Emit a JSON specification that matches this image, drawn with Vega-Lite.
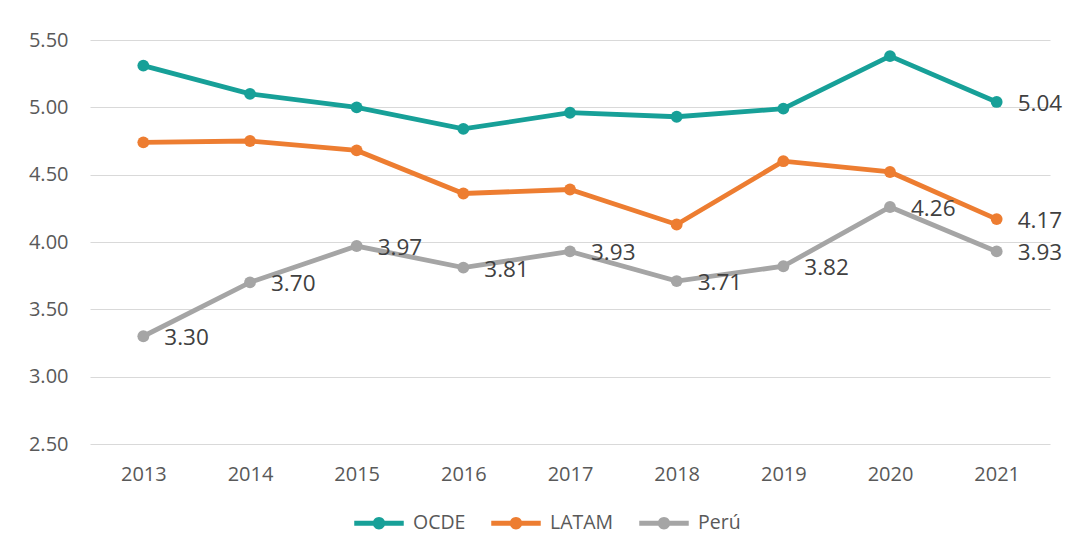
{
  "$schema": "https://vega.github.io/schema/vega-lite/v6.json",
  "width": 960,
  "height": 404,
  "autosize": {"type": "none"},
  "padding": {"left": 90, "top": 40, "right": 16, "bottom": 111},
  "background": "white",
  "config": {
    "font": "Open Sans",
    "view": {"stroke": null}
  },
  "data": {
    "values": [
      {"series": "OCDE", "year": "2013", "value": 5.31},
      {"series": "OCDE", "year": "2014", "value": 5.10},
      {"series": "OCDE", "year": "2015", "value": 5.00},
      {"series": "OCDE", "year": "2016", "value": 4.84},
      {"series": "OCDE", "year": "2017", "value": 4.96},
      {"series": "OCDE", "year": "2018", "value": 4.93},
      {"series": "OCDE", "year": "2019", "value": 4.99},
      {"series": "OCDE", "year": "2020", "value": 5.38},
      {"series": "OCDE", "year": "2021", "value": 5.04},
      {"series": "LATAM", "year": "2013", "value": 4.74},
      {"series": "LATAM", "year": "2014", "value": 4.75},
      {"series": "LATAM", "year": "2015", "value": 4.68},
      {"series": "LATAM", "year": "2016", "value": 4.36},
      {"series": "LATAM", "year": "2017", "value": 4.39},
      {"series": "LATAM", "year": "2018", "value": 4.13},
      {"series": "LATAM", "year": "2019", "value": 4.60},
      {"series": "LATAM", "year": "2020", "value": 4.52},
      {"series": "LATAM", "year": "2021", "value": 4.17},
      {"series": "Perú", "year": "2013", "value": 3.30},
      {"series": "Perú", "year": "2014", "value": 3.70},
      {"series": "Perú", "year": "2015", "value": 3.97},
      {"series": "Perú", "year": "2016", "value": 3.81},
      {"series": "Perú", "year": "2017", "value": 3.93},
      {"series": "Perú", "year": "2018", "value": 3.71},
      {"series": "Perú", "year": "2019", "value": 3.82},
      {"series": "Perú", "year": "2020", "value": 4.26},
      {"series": "Perú", "year": "2021", "value": 3.93}
    ]
  },
  "encoding": {
    "x": {
      "field": "year",
      "type": "ordinal",
      "scale": {"type": "point", "padding": 0.5},
      "axis": {
        "title": null,
        "labelAngle": 0,
        "labelFontSize": 20,
        "labelColor": "#595959",
        "labelPadding": 20,
        "ticks": false,
        "domain": false,
        "grid": false
      }
    },
    "y": {
      "field": "value",
      "type": "quantitative",
      "scale": {"domain": [2.5, 5.5], "nice": false, "zero": false},
      "axis": {
        "title": null,
        "values": [2.5, 3, 3.5, 4, 4.5, 5, 5.5],
        "format": ".2f",
        "labelFontSize": 20,
        "labelColor": "#595959",
        "labelPadding": 22,
        "ticks": false,
        "domain": false,
        "gridColor": "#d9d9d9",
        "gridWidth": 1.2
      }
    },
    "color": {
      "field": "series",
      "type": "nominal",
      "sort": ["OCDE", "LATAM", "Perú"],
      "scale": {"domain": ["OCDE", "LATAM", "Perú"], "range": ["#17a098", "#ed7d31", "#a5a5a5"]},
      "legend": {
        "title": null,
        "orient": "none",
        "legendX": 264,
        "legendY": 458,
        "direction": "horizontal",
        "labelFontSize": 19.5,
        "labelColor": "#595959",
        "labelOffset": 9,
        "columnPadding": 25,
        "symbolType": "M-1,-0.1L1,-0.1L1,0.1L-1,0.1Z M-0.25,0A0.25,0.25 0 1,1 0.25,0A0.25,0.25 0 1,1 -0.25,0Z",
        "symbolSize": 2450,
        "symbolStrokeWidth": 0,
        "encode": {
          "symbols": {"update": {"fill": {"scale": "color", "field": "value"}, "fillOpacity": {"value": 1}, "strokeWidth": {"value": 0}}}
        }
      }
    }
  },
  "layer": [
    {"mark": {"type": "line", "strokeWidth": 4.8}},
    {"mark": {"type": "point", "filled": true, "size": 140, "opacity": 1}},
    {
      "transform": [{"filter": "datum.series == 'Perú' || datum.year == '2021'"}],
      "mark": {"type": "text", "align": "left", "baseline": "middle", "dx": 21, "dy": 2, "fontSize": 22.5, "color": "#404040"},
      "encoding": {
        "text": {"field": "value", "type": "quantitative", "format": ".2f"},
        "color": {"value": "#404040"}
      }
    }
  ]
}
